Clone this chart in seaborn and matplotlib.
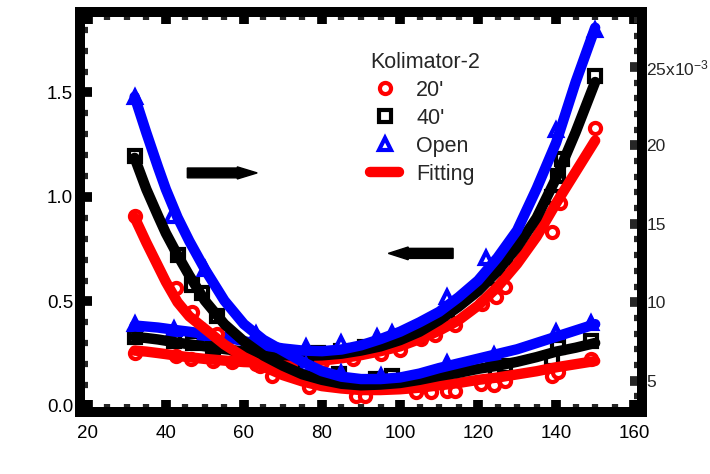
import matplotlib
matplotlib.use("Agg")
import matplotlib.pyplot as plt
from matplotlib.lines import Line2D
from matplotlib.ticker import MultipleLocator, FuncFormatter
import seaborn as sns

sns.set_style("ticks")
plt.rcParams['font.family'] = ['Liberation Sans', 'DejaVu Sans']

# ---- fitted curves ----
fit_x = [32, 35, 38, 40, 43, 46, 50, 55, 60, 65, 70, 75, 80, 85, 90, 95,
         100, 105, 110, 115, 120, 125, 130, 135, 140, 145, 150]

# left axis set
fit_left_20 = [.265, .26, .253, .248, .24, .233, .225, .217, .21, .207, .207, .21, .217, .228,
               .243, .262, .285, .32, .36, .41, .48, .57, .68, .81, .97, 1.12, 1.27]
fit_left_40 = [.33, .325, .318, .312, .303, .295, .285, .272, .26, .25, .243, .24, .242, .25,
               .265, .285, .315, .355, .41, .475, .55, .645, .76, .90, 1.09, 1.31, 1.55]
fit_left_open = [.385, .38, .375, .37, .362, .355, .345, .33, .31, .29, .275, .265, .262, .27,
                 .29, .32, .355, .40, .45, .52, .60, .71, .84, 1.04, 1.26, 1.55, 1.81]

# right axis set (x10^-3)
fit_right_20 = [15.4, 13.8, 12.3, 11.3, 10.0, 9.1, 8.3, 7.3, 6.5, 5.9, 5.35, 4.95, 4.65, 4.5,
                4.4, 4.4, 4.45, 4.55, 4.7, 4.85, 5.05, 5.2, 5.4, 5.6, 5.85, 6.05, 6.25]
fit_right_40 = [19.2, 17.2, 15.5, 14.4, 13.0, 11.7, 10.1, 8.6, 7.5, 6.6, 5.95, 5.4, 5.05, 4.8,
                4.7, 4.75, 4.85, 5.05, 5.3, 5.5, 5.75, 5.95, 6.2, 6.5, 6.85, 7.1, 7.4]
fit_right_open = [23.1, 20.8, 18.6, 17.2, 15.4, 13.9, 12.1, 10.1, 8.6, 7.6, 6.9, 6.2, 5.6, 5.25,
                  5.1, 5.1, 5.2, 5.45, 5.8, 6.1, 6.4, 6.7, 7.0, 7.4, 7.8, 8.2, 8.6]

# ---- measured points ----
left_20_x = [32, 42.5, 46.5, 52, 57, 63, 80, 88, 95, 100, 105.5, 109, 114, 121, 124.5, 127, 139, 141, 150]
left_20_y = [.255, .24, .226, .216, .21, .2, .21, .225, .25, .27, .32, .34, .385, .49, .52, .57, .83, .97, 1.33]
left_40_x = [32, 42, 47, 52, 79, 85, 91, 98, 104, 112, 124.6, 127, 139, 140.5, 141.5, 150]
left_40_y = [.33, .31, .30, .28, .255, .265, .28, .31, .34, .43, .61, .67, 1.0, 1.10, 1.18, 1.58]
left_open_x = [32, 42, 50, 76, 85, 94, 98, 112, 122, 140, 150]
left_open_y = [.39, .37, .35, .28, .30, .33, .35, .52, .71, 1.32, 1.80]

right_20_x = [32, 42.5, 46.7, 53, 64, 67.3, 76.7, 88.7, 91, 104, 108, 112, 114, 120.8, 124, 127, 139, 140.4, 149]
right_20_y = [15.5, 10.9, 9.4, 8.0, 5.95, 5.3, 4.6, 4.0, 4.05, 4.3, 4.3, 4.35, 4.35, 4.8, 4.7, 5.0, 5.3, 5.55, 6.4]
right_40_x = [32, 43.2, 46.7, 49.2, 53, 76, 84.4, 93.8, 98, 124.6, 127, 139, 140.4, 149]
right_40_y = [19.3, 13.0, 11.1, 10.6, 9.1, 5.9, 5.45, 5.1, 5.3, 5.6, 5.95, 6.4, 7.15, 7.5]
right_open_x = [32, 41.5, 50, 63, 76, 85, 95, 112, 124, 140, 149]
right_open_y = [23.1, 15.5, 12.1, 8.0, 6.0, 5.5, 5.3, 6.15, 6.65, 8.1, 8.7]

labels = ["20'", "40'", "Open"]
colors = ["#ff0000", "#000000", "#0000ff"]
markers = ["o", "s", "^"]
msizes = [8, 8, 9]

fig = plt.figure(figsize=(7.1, 4.74), dpi=100)
ax = fig.add_axes([80 / 710, 1 - 412 / 474, 562 / 710, 400 / 474])
ax2 = ax.twinx()

fits_left = [fit_left_20, fit_left_40, fit_left_open]
fits_right = [fit_right_20, fit_right_40, fit_right_open]
pts_left = [(left_20_x, left_20_y), (left_40_x, left_40_y), (left_open_x, left_open_y)]
pts_right = [(right_20_x, right_20_y), (right_40_x, right_40_y), (right_open_x, right_open_y)]

for i in range(3):
    for a, fit, (px, py) in [(ax, fits_left[i], pts_left[i]), (ax2, fits_right[i], pts_right[i])]:
        sns.lineplot(x=px, y=py, ax=a, linestyle="none", marker=markers[i],
                     markersize=msizes[i], markerfacecolor="white",
                     markeredgecolor=colors[i], markeredgewidth=3,
                     color=colors[i], zorder=1)
        sns.lineplot(x=fit_x, y=fit, ax=a, color=colors[i], linewidth=7.5,
                     sort=False, zorder=2)

ax.set_xlim(18, 162)
ax.set_ylim(-0.029, 1.885)
ax2.set_ylim(3.0, 28.5)

ax.xaxis.set_major_locator(MultipleLocator(20))
ax.xaxis.set_minor_locator(MultipleLocator(5))
ax.yaxis.set_major_locator(MultipleLocator(0.5))
ax.yaxis.set_minor_locator(MultipleLocator(0.1))
ax.yaxis.set_major_formatter(FuncFormatter(lambda v, p: f"{v:.1f}"))
ax2.yaxis.set_major_locator(MultipleLocator(5))
ax2.yaxis.set_minor_locator(MultipleLocator(1))


def right_fmt(v, pos):
    if abs(v - 25) < 1e-6:
        return r"$\mathregular{25x10^{-3}}$"
    return f"{v:.0f}"


ax2.yaxis.set_major_formatter(FuncFormatter(right_fmt))

for a in (ax, ax2):
    for s in a.spines.values():
        s.set_linewidth(7.2)
        s.set_color("black")
        s.set_capstyle("projecting")
    a.set_xlabel("")
    a.set_ylabel("")

ax.tick_params(which="major", direction="in", length=8.5, width=7, top=True,
               right=False, labelsize=13.5, colors="black")
ax.tick_params(which="minor", direction="in", length=6, width=4.5, top=True, right=False)
ax.tick_params(axis="x", which="major", pad=9)
ax.tick_params(axis="y", which="major", pad=5)
ax2.tick_params(which="major", direction="in", length=8.5, width=7, labelsize=12.5, pad=3)
ax2.tick_params(which="minor", direction="in", length=6, width=4.5)

# direction arrows
ax.arrow(45.5, 1.115, 17.9, 0, width=0.047, head_width=0.058, head_length=5.1,
         length_includes_head=True, color="black", zorder=4)
ax.arrow(113.6, 0.73, -16.6, 0, width=0.048, head_width=0.061, head_length=5.1,
         length_includes_head=True, color="black", zorder=4)

handles = [Line2D([], [], linestyle="none", marker=markers[i], markersize=msizes[i],
                  markerfacecolor="white", markeredgecolor=colors[i], markeredgewidth=3)
           for i in range(3)]
handles.append(Line2D([], [], color="#ff0000", linewidth=7.5))
leg = ax2.legend(handles, labels + ["Fitting"], title="Kolimator-2", loc="upper left",
                 bbox_to_anchor=(370 / 710, 1 - 52 / 474), bbox_transform=fig.transFigure,
                 frameon=False, fontsize=15.5, title_fontsize=15.5, borderpad=0, borderaxespad=0,
                 labelspacing=0.32, handlelength=1.35, handletextpad=0.8, alignment="left")

fig.savefig("out.png", dpi=100)
